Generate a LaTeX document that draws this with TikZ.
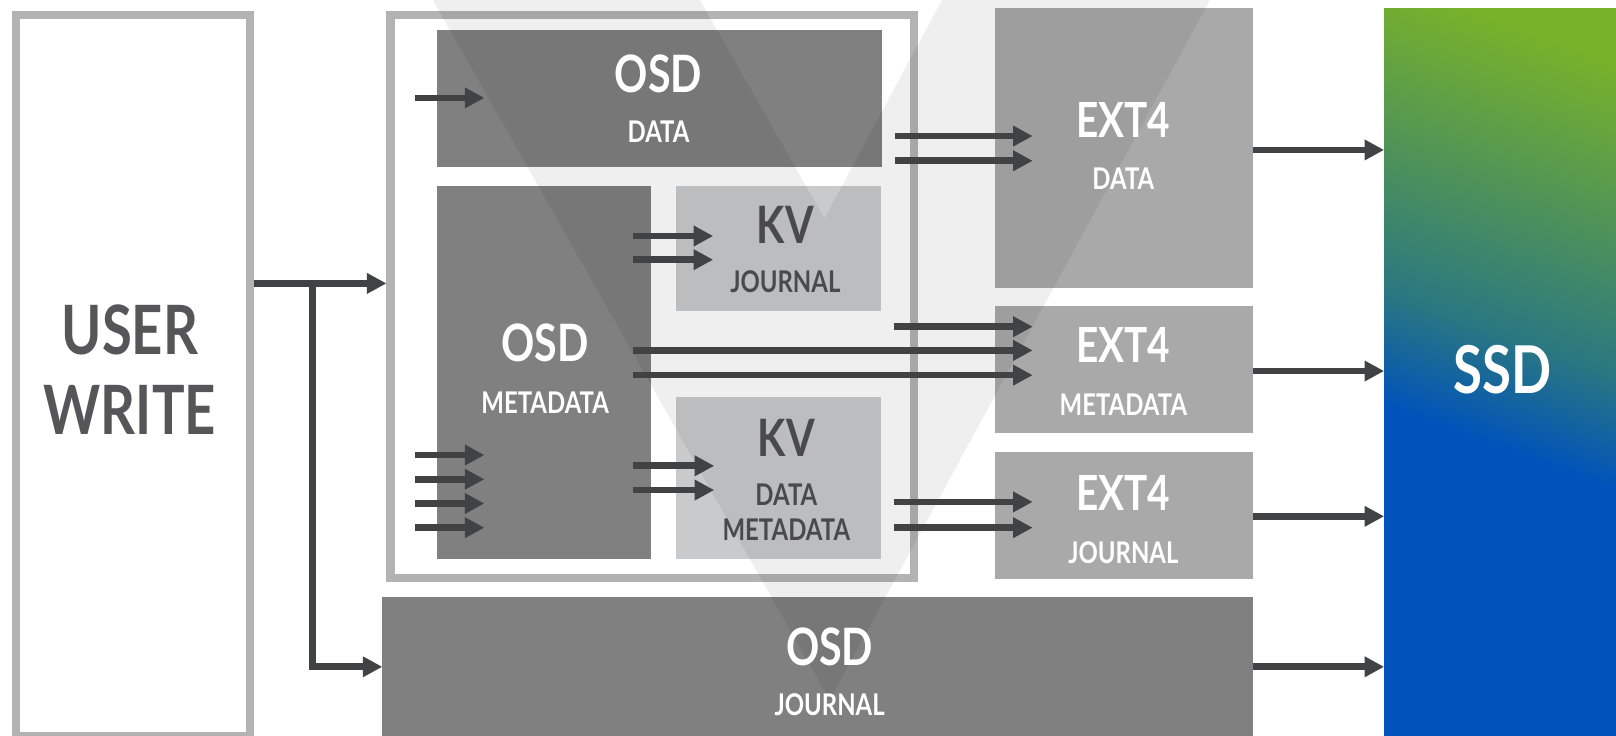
\documentclass[tikz,border=0pt]{standalone}
\usepackage{fontspec}
\newfontfamily\lato{Lato}[FakeStretch=0.8]
\usetikzlibrary{arrows.meta,calc}
\definecolor{boxdark}{HTML}{808080}
\definecolor{boxmid}{HTML}{A9A9A9}
\definecolor{boxlight}{HTML}{C9CACC}
\definecolor{framec}{HTML}{B3B3B3}
\definecolor{arrc}{HTML}{414244}
\definecolor{txtdark}{HTML}{4A4A4C}
\definecolor{txtuser}{HTML}{565658}
\definecolor{ssdblue}{HTML}{0053BA}
\definecolor{ssdteal}{HTML}{2B7880}
\definecolor{ssdgreen}{HTML}{78B22A}
\pgfdeclarelayer{paper}
\pgfdeclarelayer{back}
\pgfdeclarelayer{vlay}
\pgfsetlayers{paper,back,vlay,main}
\pgfdeclareverticalshading{ssdsh}{100bp}{color(0bp)=(ssdblue); color(45.5bp)=(ssdblue); color(52.5bp)=(ssdteal); color(71bp)=(ssdgreen); color(100bp)=(ssdgreen)}
\tikzset{
  boxbase/.style={inner sep=0pt, outer sep=0pt, anchor=north west, draw=none},
  darkbox/.style={boxbase, fill=boxdark},
  midbox/.style={boxbase, fill=boxmid},
  lightbox/.style={boxbase, fill=boxlight},
  framebox/.style={inner sep=0pt, outer sep=3.9pt, anchor=north west, draw=framec, line width=7.8pt, fill=white},
  arr/.style={draw=arrc, line width=6.5pt, -{Triangle[length=19pt,width=19pt]}},
  lbl/.style={inner sep=0pt, anchor=base},
  bigtxt/.style={lbl, font=\lato\bfseries\fontsize{66}{70}\selectfont},
  hdtxt/.style={lbl, font=\lato\bfseries\fontsize{50}{54}\selectfont},
  smtxt/.style={lbl, font=\lato\bfseries\fontsize{29}{32}\selectfont},
}
\begin{document}
\begin{tikzpicture}[x=1pt,y=-1pt]
\useasboundingbox (0,0) rectangle (1568,714);
\begin{pgfonlayer}{paper}
  \fill[white] (0,0) rectangle (1568,714);
\end{pgfonlayer}
\begin{pgfonlayer}{back}
  \node[framebox, minimum width=227pt, minimum height=699pt] (user) at (12,11) {};
  \node[framebox, minimum width=508pt, minimum height=546pt] (cont) at (375,11) {};
  \node[darkbox, minimum width=432pt, minimum height=133pt] (osddata) at (424,29) {};
  \node[darkbox, minimum width=208pt, minimum height=362pt] (osdmeta) at (424,180) {};
  \node[lightbox, minimum width=199pt, minimum height=122pt] (kvj) at (656,180) {};
  \node[lightbox, minimum width=199pt, minimum height=157pt] (kvdm) at (656,385) {};
  \node[darkbox, minimum width=845pt, minimum height=140pt] (osdj) at (371,579) {};
  \node[midbox, minimum width=251pt, minimum height=271pt] (ext4d) at (965,8) {};
  \node[midbox, minimum width=251pt, minimum height=123pt] (ext4m) at (965,297) {};
  \node[midbox, minimum width=251pt, minimum height=123pt] (ext4j) at (965,439) {};
  \node[boxbase, minimum width=225pt, minimum height=706pt] (ssd) at (1343,8) {};
  \begin{scope}
    \clip (ssd.north west) rectangle (ssd.south east);
    \begin{scope}[transform canvas={rotate around={-20:(ssd.center)}}]
      \shade[shading=ssdsh] ($(ssd.center)+(-250,-380)$) rectangle ($(ssd.center)+(250,380)$);
    \end{scope}
  \end{scope}
\end{pgfonlayer}
\begin{pgfonlayer}{vlay}
  \fill[black, fill opacity=0.062] (420,0) -- (805,679) -- (1174,0) -- (914,0) -- (800,212) -- (679,0) -- cycle;
\end{pgfonlayer}
% labels
\node[bigtxt, text=txtuser] (tuser) at (126,344) {USER};
\node[bigtxt, text=txtuser] (twrite) at (126,422) {WRITE};
\node[bigtxt, text=white, font=\lato\bfseries\fontsize{64}{68}\selectfont] (tssd) at (1458,382) {SSD};
\node[hdtxt, text=white] (tosd1) at (639,90) {OSD};
\node[smtxt, text=white] (tdata1) at (639,138) {DATA};
\node[hdtxt, text=white] (tosd2) at (529,351) {OSD};
\node[smtxt, text=white] (tmeta1) at (529,401) {METADATA};
\node[hdtxt, text=txtdark] (tkv1) at (762,236) {KV};
\node[smtxt, text=txtdark] (tjour1) at (762,284) {JOURNAL};
\node[hdtxt, text=txtdark] (tkv2) at (763,443) {KV};
\node[smtxt, text=txtdark] (tdata2) at (763,490) {DATA};
\node[smtxt, text=txtdark] (tmeta2) at (763,524) {METADATA};
\node[hdtxt, text=white, font=\lato\bfseries\fontsize{47}{50}\selectfont] (text1) at (1090,133) {EXT4};
\node[smtxt, text=white] (tdata3) at (1090,184) {DATA};
\node[hdtxt, text=white, font=\lato\bfseries\fontsize{47}{50}\selectfont] (text2) at (1090,352) {EXT4};
\node[smtxt, text=white] (tmeta3) at (1090,403) {METADATA};
\node[hdtxt, text=white, font=\lato\bfseries\fontsize{47}{50}\selectfont] (text3) at (1090,495) {EXT4};
\node[smtxt, text=white] (tjour3) at (1090,547) {JOURNAL};
\node[hdtxt, text=white] (tosd3) at (805,646) {OSD};
\node[smtxt, text=white] (tjour2) at (805,694) {JOURNAL};
% connectors
\draw[arr] (user.east |- 0,275) -- (cont.west |- 0,275);
\coordinate (jn) at (303,275);
\draw[arr] (jn) |- (osdj.west |- 0,647);
\coordinate (in0) at (403,95);
\draw[arr] (in0) -- ($(osddata.west |- in0)+(46,0)$);
\foreach \yy [count=\i] in {441.5,465,488.5,512} {
  \coordinate (inm\i) at (403,\yy);
  \draw[arr] (inm\i) -- ($(osdmeta.west |- inm\i)+(46,0)$);
}
\foreach \yy in {132,156}
  \draw[arr] ($(osddata.east |- 0,\yy)+(12,0)$) -- ($(ext4d.west |- 0,\yy)+(37,0)$);
\foreach \yy in {229,252}
  \draw[arr] ($(osdmeta.east |- 0,\yy)+(-18,0)$) -- ($(kvj.west |- 0,\yy)+(36,0)$);
\draw[arr] ($(kvj.east |- 0,317)+(12,0)$) -- ($(ext4m.west |- 0,317)+(37,0)$);
\foreach \yy in {340,364}
  \draw[arr] ($(osdmeta.east |- 0,\yy)+(-18,0)$) -- ($(ext4m.west |- 0,\yy)+(37,0)$);
\foreach \yy in {452,475.5}
  \draw[arr] ($(osdmeta.east |- 0,\yy)+(-18,0)$) -- ($(kvdm.west |- 0,\yy)+(37,0)$);
\foreach \yy in {487,512}
  \draw[arr] ($(kvdm.east |- 0,\yy)+(12,0)$) -- ($(ext4j.west |- 0,\yy)+(37,0)$);
\draw[arr] (ext4d.east |- 0,145.5) -- (ssd.west |- 0,145.5);
\draw[arr] (ext4m.east |- 0,360) -- (ssd.west |- 0,360);
\draw[arr] (ext4j.east |- 0,501) -- (ssd.west |- 0,501);
\draw[arr] (osdj.east |- 0,647) -- (ssd.west |- 0,647);
\end{tikzpicture}
\end{document}
